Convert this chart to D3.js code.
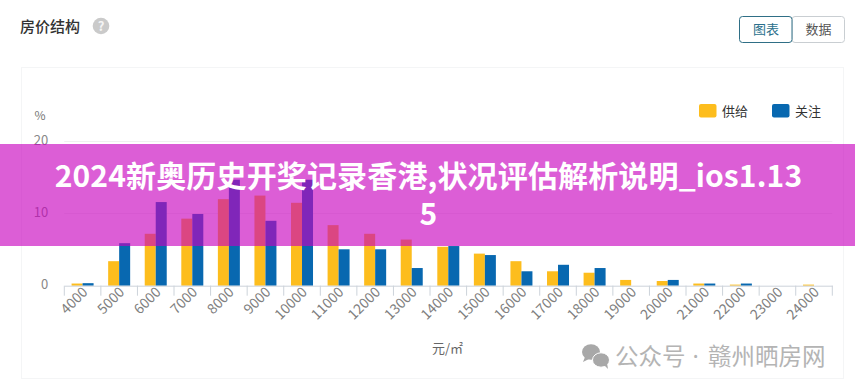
<!DOCTYPE html>
<html>
<head>
<meta charset="utf-8">
<script src="https://cdn.jsdelivr.net/npm/d3@7"></script>
<style>
    html, body { margin: 0; padding: 0; background: #fff; overflow: hidden; }
    text { font-family: "Noto Sans CJK SC", "Noto Sans", sans-serif; }
</style>
</head>
<body>
<script>
const categories = ["4000", "5000", "6000", "7000", "8000", "9000", "10000", "11000", "12000", "13000", "14000",
    "15000", "16000", "17000", "18000", "19000", "20000", "21000", "22000", "23000", "24000"];
const supply = [0.3, 3.4, 7.2, 9.3, 12.0, 12.5, 11.5, 8.4, 7.2, 6.4, 5.4, 4.45, 3.4, 2.0, 1.8, 0.8, 0.65, 0.3, 0.15, 0, 0.15];
const attention = [0.35, 5.9, 11.6, 9.95, 14.7, 9.0, 14.7, 5.05, 5.05, 2.45, 5.5, 4.25, 2.0, 2.9, 2.45, 0, 0.8, 0.3, 0.3, 0, 0];
const yTicks = [0, 10, 20];
const seriesNames = ["供给", "关注"];
const seriesColors = ["#fdbd1d", "#0868b0"];
const bannerLines = ["2024新奥历史开奖记录香港,状况评估解析说明_ios1.13", "5"];

var width = 855;
var height = 391;
var margin = {top: 141.5, right: 22.7, bottom: 105.3, left: 64.3};
var plotW = width - margin.left - margin.right;
var plotH = height - margin.top - margin.bottom;

var svg = d3.select("body")
    .append("svg")
    .attr("width", width)
    .attr("height", height)
    .style("display", "block");

// header
svg.append("text")
    .attr("x", 20).attr("y", 32)
    .attr("font-size", 15).attr("font-weight", 500).attr("fill", "#333")
    .text("房价结构");
svg.append("circle")
    .attr("cx", 101).attr("cy", 26).attr("r", 8.3)
    .attr("fill", "#cacaca");
svg.append("text")
    .attr("x", 101).attr("y", 31).attr("text-anchor", "middle")
    .attr("font-size", 13).attr("font-weight", 700).attr("fill", "#f4f4f4")
    .text("?");

// buttons
svg.append("rect")
    .attr("x", 792).attr("y", 16.5).attr("width", 52.5).attr("height", 26).attr("rx", 3)
    .attr("fill", "#fff").attr("stroke", "#c9ced2");
svg.append("rect")
    .attr("x", 739.5).attr("y", 16.5).attr("width", 52.5).attr("height", 26).attr("rx", 3)
    .attr("fill", "#fff").attr("stroke", "#2f6f86");
svg.append("text")
    .attr("x", 766).attr("y", 34).attr("text-anchor", "middle")
    .attr("font-size", 13).attr("fill", "#2a6f8c")
    .text("图表");
svg.append("text")
    .attr("x", 818.5).attr("y", 34).attr("text-anchor", "middle")
    .attr("font-size", 13).attr("fill", "#555")
    .text("数据");

// panel
svg.append("rect")
    .attr("x", 21.5).attr("y", 67.5).attr("width", 822).attr("height", 311)
    .attr("fill", "#fff").attr("stroke", "#f4f5f6");

var g = svg.append("g")
    .attr("transform", `translate(${margin.left}, ${margin.top})`);

const x = d3.scaleBand()
    .domain(categories)
    .range([0, plotW]);

const y = d3.scaleLinear()
    .domain([0, 20])
    .range([plotH, 0]);

var barW = 11;

var yAxis = d3.axisLeft(y)
    .tickValues(yTicks)
    .tickSize(0)
    .tickPadding(16);
var yG = g.append("g").call(yAxis);
yG.select(".domain").remove();
yG.selectAll("text").attr("font-size", 13).attr("fill", "#888").attr("font-family", "Lato").attr("dy", "0.2em");

g.selectAll(".grid")
    .data(yTicks.filter(d => d > 0))
    .enter()
    .append("line")
    .attr("class", "grid")
    .attr("x1", 0).attr("x2", plotW)
    .attr("y1", d => y(d)).attr("y2", d => y(d))
    .attr("stroke", "#f0f0f0");

g.selectAll(".supply")
    .data(supply)
    .enter()
    .append("rect")
    .attr("class", "supply")
    .attr("x", (d, i) => x(categories[i]) + x.bandwidth() / 2 - barW)
    .attr("y", d => y(d))
    .attr("width", barW)
    .attr("height", d => plotH - y(d))
    .attr("fill", seriesColors[0]);

g.selectAll(".attention")
    .data(attention)
    .enter()
    .append("rect")
    .attr("class", "attention")
    .attr("x", (d, i) => x(categories[i]) + x.bandwidth() / 2)
    .attr("y", d => y(d))
    .attr("width", barW)
    .attr("height", d => plotH - y(d))
    .attr("fill", seriesColors[1]);

var xAxis = d3.axisBottom(x).tickSize(0).tickPadding(8);
var xG = g.append("g")
    .attr("transform", `translate(0, ${plotH})`)
    .call(xAxis);
xG.select(".domain").attr("stroke", "#ccd3da").attr("stroke-width", 1);
xG.selectAll(".tick text")
    .attr("font-size", 14)
    .attr("font-family", "Lato")
    .attr("fill", "#808080")
    .attr("text-anchor", "end")
    .attr("transform", "rotate(-45)")
    .attr("x", -1)
    .attr("y", 5)
    .attr("dy", "0.32em");

// ticks sit on the band edges
xG.selectAll(".edge")
    .data(categories.concat(["end"]))
    .enter()
    .append("line")
    .attr("class", "edge")
    .attr("x1", (d, i) => i * x.step())
    .attr("x2", (d, i) => i * x.step())
    .attr("y1", 0)
    .attr("y2", 10)
    .attr("stroke", "#ccd3da");

// axis names
svg.append("text")
    .attr("x", 40).attr("y", 120).attr("text-anchor", "middle")
    .attr("font-size", 12).attr("fill", "#777")
    .text("%");
svg.append("text")
    .attr("x", 432).attr("y", 353)
    .attr("font-size", 13).attr("fill", "#666")
    .text("元/㎡");

// legend
var legendX = [699, 772];
seriesNames.forEach((name, i) => {
    svg.append("rect")
        .attr("x", legendX[i]).attr("y", 104).attr("width", 17.5).attr("height", 13.5).attr("rx", 2)
        .attr("fill", seriesColors[i]);
    svg.append("text")
        .attr("x", legendX[i] + 23).attr("y", 115.5)
        .attr("font-size", 13).attr("fill", "#333")
        .text(name);
});

// watermark
var wm = svg.append("g").attr("fill", "#a8a8a8");
wm.append("ellipse").attr("cx", 591).attr("cy", 352).attr("rx", 9).attr("ry", 7.8);
wm.append("path").attr("d", d3.line()([[585, 357], [583, 362], [589, 359]]));
wm.append("ellipse").attr("cx", 601).attr("cy", 360).attr("rx", 8.5).attr("ry", 7.2).attr("stroke", "#fff").attr("stroke-width", 1);
wm.append("path").attr("d", d3.line()([[604, 365], [608, 369], [607, 363]]));
var wmText = svg.append("text")
    .attr("y", 365)
    .attr("font-size", 23.5).attr("fill", "#b4b4b4");
wmText.append("tspan").attr("x", 615).text("公众号");
wmText.append("tspan").attr("x", 692.5).style("font-family", "'Noto Sans'").text("·");
wmText.append("tspan").attr("x", 708).text("赣州晒房网");

// banner over the chart
svg.append("rect")
    .attr("x", 0).attr("y", 144).attr("width", width).attr("height", 102)
    .attr("fill", "rgb(200, 0, 190)").attr("fill-opacity", 0.63);
svg.append("text")
    .attr("font-size", 30)
    .attr("letter-spacing", 0.15)
    .attr("font-weight", 700)
    .attr("fill", "#fff")
    .attr("text-anchor", "middle")
    .selectAll("tspan")
    .data(bannerLines)
    .enter()
    .append("tspan")
    .attr("x", width / 2 + 1)
    .attr("y", (d, i) => 187 + i * 38)
    .text(d => d);
</script>
</body>
</html>
